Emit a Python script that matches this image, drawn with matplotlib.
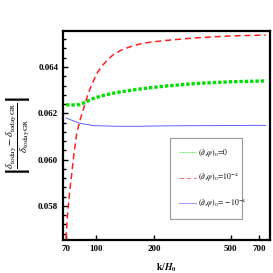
import numpy as np
import matplotlib.pyplot as plt
from matplotlib.ticker import FixedLocator, NullLocator, MultipleLocator

plt.rcParams['font.family'] = ['Liberation Serif', 'DejaVu Serif']
plt.rcParams['mathtext.fontset'] = 'stix'

k_red = [70, 71, 73, 75, 77, 79.4, 82.6, 87.7, 92, 96.8, 102, 109, 116, 123, 133, 144, 160, 176, 200, 232,
         280, 333, 400, 494, 600, 760]
v_red = [0.05660, 0.05752, 0.05860, 0.05944, 0.06030, 0.06111, 0.06170, 0.06240, 0.06295, 0.06338, 0.06378,
         0.06410, 0.06435, 0.06453, 0.06470, 0.06482, 0.06494, 0.06503, 0.06509, 0.06515,
         0.06521, 0.06526, 0.06530, 0.06534, 0.06536, 0.06538]

k_green = [70, 76, 82.6, 89, 96.8, 109, 123, 145, 176, 232, 333, 494, 760]
v_green = [0.06237, 0.06236, 0.06238, 0.06250, 0.06264, 0.06277, 0.06287, 0.06297, 0.06307, 0.06318,
           0.06329, 0.06336, 0.06340]

k_blue = [70, 76, 82.6, 96.8, 128, 170, 232, 400, 760]
v_blue = [0.06180, 0.06168, 0.06157, 0.06147, 0.06144, 0.06144, 0.06146, 0.06147, 0.06148]

labels = [r'$(\partial_\tau\varphi)_0\!=\!0$',
          r'$(\partial_\tau\varphi)_0\!=\!10^{-4}$',
          r'$(\partial_\tau\varphi)_0\!=\!-10^{-4}$']

x_ticks = [70, 100, 200, 500, 700]

fig = plt.figure(figsize=(2.73, 2.73), dpi=100)
ax = fig.add_axes([0.231, 0.121, 0.758, 0.765])

ax.plot(k_green, v_green, color='#00e000', lw=2.4, linestyle=(0, (1, 0.6)), label=labels[0])
ax.plot(k_red, v_red, color='#ff2020', lw=1.1, linestyle=(0, (4, 2.5)), label=labels[1])
ax.plot(k_blue, v_blue, color='#6060ff', lw=0.7, label=labels[2])

ax.set_xscale('log')
ax.set_xlim(67.5, 800)
ax.set_ylim(0.05653, 0.06555)

ax.xaxis.set_major_locator(FixedLocator(x_ticks))
ax.xaxis.set_minor_locator(NullLocator())
ax.set_xticklabels([str(t) for t in x_ticks])
ax.yaxis.set_major_locator(MultipleLocator(0.002))
ax.yaxis.set_minor_locator(MultipleLocator(0.0004))
ax.yaxis.set_major_formatter(plt.FuncFormatter(lambda v, p: f'{v:.3f}'))

ax.tick_params(which='both', direction='in', labelsize=6.5, width=1)
ax.tick_params(which='major', length=3.5)
ax.tick_params(which='minor', length=2)
for lab in ax.get_xticklabels() + ax.get_yticklabels():
    lab.set_fontweight('bold')
for s in ax.spines.values():
    s.set_linewidth(1.6)

ax.set_xlabel(r'$\mathbf{k}/\boldsymbol{H}_\mathbf{0}$', fontsize=7, labelpad=6)
ax.set_ylabel(r'$\left|\dfrac{\delta_{\mathrm{today}}-\delta_{\mathrm{today\,GR}}}{\delta_{\mathrm{today\,GR}}}\right|$',
              fontsize=7.5, labelpad=4)

leg = ax.legend(loc='upper left', bbox_to_anchor=(0.497, 0.124, 0.387, 0.383), mode='expand',
                fontsize=5.5, frameon=True, fancybox=False, edgecolor='#808080',
                handlelength=2.2, labelspacing=1.55, borderpad=1.2, handletextpad=0.3)
leg.get_frame().set_linewidth(0.8)
for h in leg.get_lines():
    h.set_alpha(0.6)
    h.set_linewidth(0.8)

fig.savefig('out.png', dpi=100)
